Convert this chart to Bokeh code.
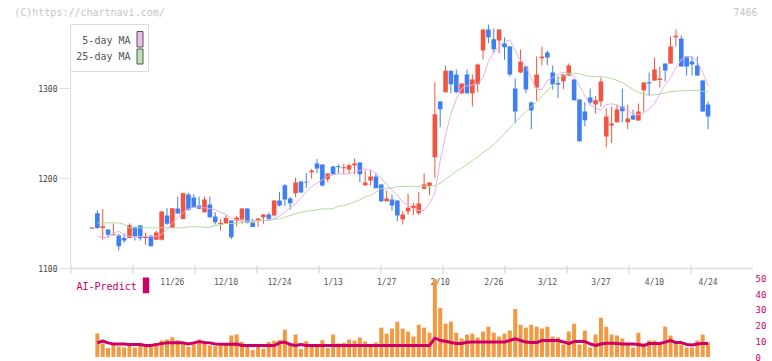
import math
from bokeh.plotting import figure
from bokeh.models import Range1d, LinearAxis, FixedTicker
from bokeh.core.properties import value
from bokeh.embed import file_html
from bokeh.resources import INLINE

nan = float("nan")

# ---------------- data ----------------
opens = [1144.5, 1161.5, 1145, 1143.3, 1137, 1136.7, 1134, 1134, 1146, 1147.8,
         1134, 1136.3, 1132, 1132, 1159, 1145, 1166.7, 1155, 1182.2, 1179,
         1170, 1162.6, 1171, 1157.8, 1149.5, 1150, 1153.3, 1153.3, 1154.4, 1166.7,
         1151.1, 1153.3, 1157, 1160, 1159, 1175.6, 1192.6, 1177.8, 1183.7, 1196.7,
         1196.5, 1207, 1216.7, 1215.6, 1199.3, 1213.3, 1213.5, 1211.5, 1210, 1214.8,
         1217.8, 1192.6, 1197.8, 1202.2, 1193.4, 1174.8, 1176.7, 1175.6, 1154.4, 1163.3,
         1167, 1161.5, 1188.6, 1191.9, 1223.7, 1285.6, 1295.9, 1319.7, 1315.6, 1294.8,
         1315.6, 1294.8, 1304.8, 1342.2, 1365.6, 1354.8, 1353.3, 1350, 1346.7, 1300,
         1317.8, 1324.4, 1284.4, 1301.1, 1333.7, 1340, 1317.8, 1306, 1308, 1314.4,
         1310, 1287.8, 1274.4, 1290, 1282.2, 1285.6, 1246.7, 1259, 1262.6, 1280,
         1262.6, 1270, 1264.4, 1298.1, 1307, 1308.9, 1309.5, 1327.8, 1327.8, 1357,
         1355.6, 1335.6, 1330, 1325.6, 1308.9, 1282.2]
highs = [1146, 1164.5, 1166, 1143.5, 1150, 1138.6, 1138.6, 1150, 1146.7, 1148,
         1140, 1137, 1142, 1164, 1167, 1167, 1180, 1184, 1183.7, 1182.6,
         1180, 1180, 1180, 1162.6, 1155, 1159, 1153.5, 1158, 1167, 1167,
         1155.2, 1156, 1160.5, 1162.2, 1176, 1185.2, 1193.7, 1179.7, 1200.8, 1197,
         1206, 1210.4, 1221.5, 1216, 1206, 1214, 1215.6, 1216.3, 1216.3, 1222.2,
         1218, 1209, 1209.7, 1205.6, 1193.5, 1186.7, 1182.2, 1176, 1163.7, 1183.3,
         1173, 1184.8, 1205.6, 1195.6, 1306.7, 1286, 1325.6, 1320, 1321.1, 1306,
         1321, 1315.6, 1327.8, 1366, 1371, 1366.7, 1366, 1356.7, 1347, 1311.1,
         1343.3, 1325, 1285.6, 1335.6, 1346.7, 1342.2, 1325.6, 1313.7, 1316, 1327.8,
         1310.5, 1288, 1284.8, 1300, 1291.5, 1312.2, 1277.8, 1280, 1282.2, 1300,
         1282.2, 1276.7, 1283.3, 1307, 1317.8, 1334.4, 1324.4, 1328, 1357.8, 1365.6,
         1358.9, 1336, 1335.6, 1335.6, 1309, 1285.6]
lows = [1144, 1144, 1132, 1134, 1137, 1120, 1128.6, 1133.7, 1131, 1131,
        1126.7, 1124.8, 1131.9, 1131, 1148.6, 1144.8, 1161, 1154.8, 1164.4, 1167.4,
        1166, 1162, 1156, 1149, 1142, 1150, 1132.6, 1146.7, 1149.7, 1150,
        1146, 1146, 1149.7, 1153, 1158, 1169, 1169.3, 1165.6, 1179.2, 1184,
        1189.2, 1199.7, 1206, 1191, 1196, 1204, 1205, 1204.8, 1204.8, 1204.8,
        1195.9, 1192, 1192.2, 1189, 1174, 1174.5, 1164.4, 1152.6, 1148.9, 1159.7,
        1159.7, 1159.7, 1188, 1181.5, 1200.8, 1257, 1295.5, 1294.8, 1294.8, 1294,
        1294, 1280, 1295.9, 1332.2, 1350.4, 1339.2, 1339.2, 1332, 1313.3, 1261.5,
        1317, 1294.8, 1254.8, 1286.7, 1325.6, 1325.9, 1298.9, 1289.2, 1298.9, 1314,
        1286.5, 1241, 1258.1, 1282.2, 1272.2, 1280, 1234.8, 1239.3, 1262, 1262.6,
        1254.8, 1265, 1264, 1274.4, 1292.2, 1308.5, 1301.1, 1307.8, 1327, 1346.7,
        1324, 1314.4, 1314.4, 1314, 1274, 1254.8]
closes = [1145.5, 1145, 1147, 1137.5, 1138, 1124.8, 1131, 1148, 1135.6, 1133.7,
          1135.5, 1124.8, 1140, 1163.4, 1149.7, 1167, 1161.1, 1183.7, 1165.2, 1167.4,
          1166.3, 1176.7, 1157, 1151.5, 1150.5, 1156, 1134.8, 1156.7, 1166.7, 1150.8,
          1146, 1155.6, 1160, 1155.2, 1175.6, 1170, 1176.7, 1172.6, 1195.6, 1184.4,
          1195.5, 1209, 1211.1, 1192.2, 1205.6, 1204.8, 1212.5, 1212.5, 1214.8, 1216.7,
          1204.8, 1195.6, 1202.2, 1189.2, 1174.8, 1177.8, 1170, 1158.9, 1160, 1167.5,
          1169.7, 1172.2, 1193.3, 1195.6, 1271.5, 1277, 1319.7, 1304.8, 1295.9, 1305.6,
          1294.8, 1310, 1326.7, 1365.6, 1357, 1343.7, 1365.6, 1345.7, 1315.6, 1274.4,
          1330, 1298.9, 1275.6, 1315.6, 1335.6, 1334.4, 1304.4, 1304.5, 1315.6, 1325.6,
          1287, 1241.5, 1264.8, 1284.4, 1287, 1307.8, 1268.9, 1261, 1276.7, 1274.8,
          1266.7, 1265.6, 1274.4, 1306.7, 1305.5, 1321.1, 1311, 1320, 1346.7, 1358.5,
          1324.4, 1324.4, 1326.7, 1314.4, 1274.4, 1268.9]
ma5 = [nan, 1135.6, 1134.5, 1134.1, 1139, 1141.5, 1137, 1135.6, 1135.6, 1135.6,
       1135.6, 1135.6, 1135.6, 1138.5, 1143, 1150.5, 1156.5, 1162, 1166.5, 1168,
       1168.5, 1167.5, 1166.3, 1165.5, 1162.6, 1160, 1156, 1154, 1153, 1152.6,
       1152.8, 1153.2, 1153.3, 1154, 1155.2, 1158.5, 1162.5, 1167.5, 1172, 1178.5,
       1185, 1191, 1195, 1198.5, 1202.5, 1204, 1205.2, 1205, 1205.5, 1207.5,
       1209, 1210.8, 1209, 1206, 1200.5, 1193.5, 1187, 1181, 1174, 1170,
       1166.5, 1164.4, 1164.4, 1172, 1183, 1220, 1248, 1272, 1288, 1300,
       1303, 1304, 1305, 1312, 1330, 1340, 1347, 1352, 1354, 1342,
       1331, 1325, 1311, 1299, 1299, 1308.9, 1312, 1316, 1318, 1317,
       1313, 1303, 1292, 1281, 1279, 1275.6, 1282, 1283, 1281.5, 1279,
       1275.6, 1271.5, 1270.8, 1273, 1277, 1283, 1294, 1304, 1312, 1323,
       1332, 1335, 1335.6, 1330, 1318, 1303]
ma25 = [nan, 1150.7, 1150.7, 1150.7, 1150.7, 1150.7, 1149, 1145.2, 1145.2, 1145.2,
        1145.2, 1145.2, 1145.2, 1145.2, 1145.2, 1145.2, 1145.2, 1145.2, 1146.3, 1146.3,
        1146.5, 1145.5, 1146, 1148, 1148.2, 1150, 1150, 1150, 1151.5, 1151.5,
        1151.5, 1153, 1153.3, 1153.3, 1155, 1155.2, 1157, 1158.9, 1161, 1162.6,
        1163.5, 1164.4, 1165, 1166.3, 1166.3, 1166.3, 1169.6, 1169.6, 1171.9, 1174,
        1176.3, 1180, 1181.1, 1185, 1189, 1189.2, 1189.5, 1191, 1191.1, 1191.3,
        1191.3, 1191.3, 1191.3, 1191.3, 1192, 1195, 1199, 1203.5, 1208, 1211.5,
        1216, 1220, 1224, 1229, 1233, 1238, 1243, 1250, 1256, 1263,
        1268.5, 1274.5, 1280, 1285, 1292, 1297.5, 1304, 1310, 1314, 1316.5,
        1317, 1316.5, 1314.5, 1313.5, 1313.3, 1313, 1312.6, 1311, 1309, 1306.5,
        1303, 1299, 1296, 1293.5, 1292.5, 1293, 1294, 1295, 1296.5, 1297,
        1297.5, 1297.8, 1298, 1298, 1297, 1296]
volume = [nan, 14.9, 8.6, 5.7, 8.4, 6.7, 6.1, 8.4, 6.1, 8.6,
          6.9, 6.5, 8.4, 10.5, 11.1, 12.6, 10.7, 9.0, 6.3, 8.2,
          11.1, 8.6, 7.3, 6.9, 7.3, 8.4, 13.7, 14.3, 9.5, 6.9,
          4.4, 6.9, 5.2, 9.5, 10.3, 10.9, 17.4, 8.0, 14.3, 5.0,
          10.1, 6.9, 7.3, 10.7, 5.7, 14.3, 8.6, 9.0, 11.1, 10.5,
          12.4, 9.9, 7.3, 9.2, 18.7, 14.9, 18.1, 22.5, 18.1, 16.2,
          13.0, 20.6, 18.7, 15.5, 49.6, 31.3, 21.2, 22.5, 15.5, 11.8,
          14.3, 14.9, 12.4, 16.2, 19.3, 15.5, 13.0, 14.9, 16.8, 30.6,
          20.6, 18.7, 20.6, 19.3, 18.1, 19.3, 13.0, 12.4, 8.0, 16.2,
          21.2, 8.0, 16.8, 6.1, 14.3, 25.0, 19.3, 14.3, 13.7, 11.8,
          8.0, 6.1, 15.5, 8.6, 10.5, 10.5, 8.6, 19.3, 13.7, 8.6,
          8.0, 6.1, 6.1, 10.5, 14.3, 9.2]
ai_predict = [nan, 9.0, 10.2, 9.0, 8.3, 8.3, 8.3, 8.0, 7.9, 7.9,
              7.3, 7.3, 7.9, 8.6, 9.0, 9.0, 9.0, 9.0, 8.3, 9.0,
              9.8, 9.3, 9.0, 8.3, 8.1, 8.1, 8.1, 8.3, 7.3, 7.3,
              7.3, 7.3, 7.3, 7.3, 7.3, 9.0, 9.5, 8.0, 7.3, 8.0,
              7.3, 7.3, 7.3, 7.3, 7.3, 7.3, 7.3, 7.3, 7.3, 7.3,
              7.3, 7.3, 7.3, 7.3, 7.3, 7.3, 7.3, 7.3, 7.3, 7.3,
              7.3, 7.3, 7.3, 7.3, 12.1, 10.5, 10.0, 9.2, 8.6, 8.6,
              9.4, 9.6, 9.6, 9.6, 9.6, 9.6, 9.6, 9.6, 10.5, 11.6,
              10.5, 9.6, 9.2, 9.2, 10.5, 10.5, 10.5, 10.5, 9.6, 8.6,
              9.8, 9.8, 9.8, 8.3, 7.3, 8.3, 8.8, 8.8, 8.6, 8.3,
              8.3, 8.3, 8.0, 7.3, 8.6, 8.6, 8.6, 9.5, 10.5, 9.2,
              9.2, 8.0, 7.7, 8.3, 8.6, 8.6]
tick_labels = ["11/26", "12/10", "12/24", "1/13", "1/27", "2/10",
               "2/26", "3/12", "3/27", "4/10", "4/24"]
tick_index = [15, 25, 35, 45, 55, 65, 75, 85, 95, 105, 115]
price_ticks = [1100, 1200, 1300]
volume_ticks = [0, 10, 20, 30, 40, 50]
header_texts = {89: "(C)https://chartnavi.com/", 745: "7466"}

# ---------------- helpers (page px -> data) ----------------
X0, DX = 91.5, 5.357          # page x of index 0, px per session
def xi(px):
    return (px - X0) / DX
def yp(py):
    return 1100 + (268 - py) / 0.9
V0, DV = 356.5, 78.5 / 50     # page y of volume 0, px per volume unit
def yv(py):
    return (V0 - py) / DV

MONO = "DejaVu Sans Mono"
RED, BLUE = "#f2543f", "#3f7ff0"
FL, FR, FT, FB = 69, 752, 20, 361   # frame edges in page px

idx = list(range(len(closes)))

p = figure(width=772, height=361,
           x_range=Range1d(xi(FL), xi(FR)), y_range=Range1d(yp(FB), yp(FT)),
           output_backend="svg", toolbar_location=None, x_axis_type=None,
           min_border_left=FL, min_border_right=772 - FR, min_border_top=FT, min_border_bottom=0)
p.outline_line_color = None
p.grid.visible = False
p.background_fill_color = "white"
p.border_fill_color = "white"

la = p.yaxis[0]
la.ticker = FixedTicker(ticks=price_ticks)
la.axis_line_color = None
la.major_tick_line_color = "#dddddd"
la.major_tick_out = 10
la.major_tick_in = 0
la.minor_tick_line_color = None
la.major_label_standoff = 2
la.major_label_text_font = MONO
la.major_label_text_font_size = "8px"
la.major_label_text_color = "#444444"

p.extra_y_ranges = {"vol": Range1d(yv(FB), yv(FT))}
ra = LinearAxis(y_range_name="vol", ticker=FixedTicker(ticks=volume_ticks),
                axis_line_color=None, major_tick_line_color=None, minor_tick_line_color=None,
                major_tick_out=0, major_tick_in=0,
                major_label_standoff=3, major_label_text_font=MONO,
                major_label_text_font_size="9px", major_label_text_color="#cc0066")
p.add_layout(ra, "right")

# header line (copyright + code) as an "above" axis in page-pixel units
p.extra_x_ranges = {"hdr": Range1d(FL, FR)}
ha = LinearAxis(x_range_name="hdr", ticker=FixedTicker(ticks=list(header_texts.keys())),
                major_label_overrides=header_texts,
                axis_line_color=None, major_tick_line_color=None, minor_tick_line_color=None,
                major_tick_out=0, major_tick_in=0, major_label_standoff=3,
                major_label_text_font=MONO, major_label_text_font_size="10px",
                major_label_text_color="#c6c6c6")
p.add_layout(ha, "above")

# axes lines / ticks of price panel
p.segment(x0=[xi(70)], y0=[yp(71)], x1=[xi(70)], y1=[1100], line_color="#dddddd", line_width=1)
p.segment(x0=[xi(70)], y0=[1100], x1=[xi(752)], y1=[1100], line_color="#dddddd", line_width=1.5)
tx = [xi(70.5 + 62.0 * k) for k in range(12)]
p.segment(x0=tx, y0=[yp(265)] * 12, x1=tx, y1=[yp(273.3)] * 12, line_color="#dddddd", line_width=1.5)
p.text(x=tick_index, y=[yp(282)] * len(tick_index), text=tick_labels,
       text_font=value(MONO), text_font_size="8px", text_color="#555555",
       text_align="center", text_baseline="middle")

# legend box
p.quad(left=[xi(70)], right=[xi(148)], top=[yp(24)], bottom=[yp(71)],
       fill_color="white", line_color="#dddddd", line_width=1)
p.quad(left=[xi(136.5)], right=[xi(142.5)], top=[yp(31)], bottom=[yp(46.5)],
       fill_color="#efbcef", line_color="#555555", line_width=1)
p.quad(left=[xi(136.5)], right=[xi(142.5)], top=[yp(48.5)], bottom=[yp(63.5)],
       fill_color="#bfe0b0", line_color="#555555", line_width=1)
p.text(x=[xi(130), xi(130)], y=[yp(40), yp(56)], text=["5-day MA", "25-day MA"],
       text_font=value(MONO), text_font_size="10px", text_color="#555555",
       text_align="right", text_baseline="middle")

# candles
up = [c >= o for o, c in zip(opens, closes)]
cols = [RED if u else BLUE for u in up]
p.segment(x0=idx, y0=lows, x1=idx, y1=highs, line_color=cols, line_width=1)
p.vbar(x=idx, width=0.86, top=[max(o, c) for o, c in zip(opens, closes)],
       bottom=[min(o, c) for o, c in zip(opens, closes)], fill_color=cols, line_color=None)

# moving averages
p.line(idx, ma5, line_color="#e6aee8", line_width=1)
p.line(idx, ma25, line_color="#b0da9f", line_width=1)

# AI-Predict legend
p.text(x=[xi(76)], y=[yp(286)], text=["AI-Predict"], text_font=value(MONO),
       text_font_size="10px", text_color="#cc0066", text_align="left", text_baseline="middle")
p.quad(left=[xi(142.3)], right=[xi(148.7)], top=[yp(277)], bottom=[yp(292.7)],
       fill_color="#cc0066", line_color=None)

# volume + AI line
p.vbar(x=idx, width=0.75, top=volume, bottom=0, fill_color="#f29a42", line_color=None,
       y_range_name="vol")
p.line(idx, ai_predict, line_color="#cc0066", line_width=3, y_range_name="vol")

open("out.html", "w").write(file_html(p, INLINE))
